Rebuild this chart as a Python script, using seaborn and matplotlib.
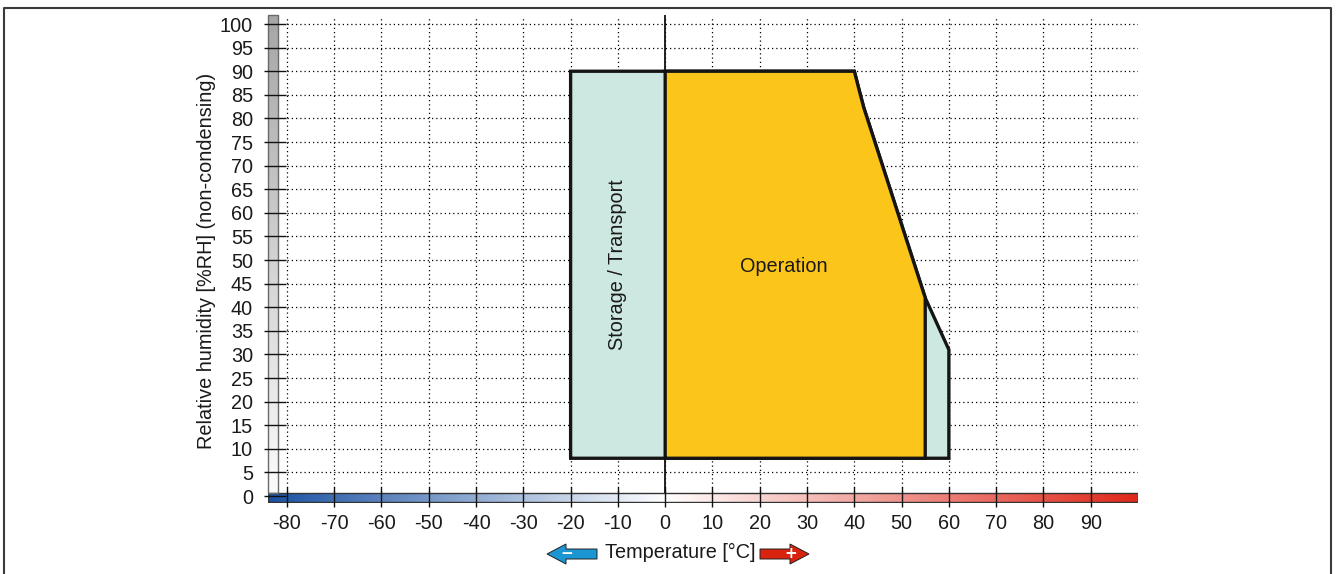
import numpy as np
import matplotlib
matplotlib.use("Agg")
import matplotlib.pyplot as plt
import seaborn as sns
import pandas as pd
from matplotlib.colors import LinearSegmentedColormap, TwoSlopeNorm
from matplotlib.patches import Rectangle, FancyArrow
from matplotlib.lines import Line2D
from matplotlib.transforms import IdentityTransform

# ---------------- data ----------------
x_ticks = [-80, -70, -60, -50, -40, -30, -20, -10, 0, 10, 20, 30, 40, 50, 60, 70, 80, 90]
y_ticks = [0, 5, 10, 15, 20, 25, 30, 35, 40, 45, 50, 55, 60, 65, 70, 75, 80, 85, 90, 95, 100]

# derating curve (upper right boundary)
curve_temp = [40, 41, 42, 45, 50, 55]
curve_rh = [90, 86.1, 82.3, 73.0, 57.5, 42.0]

storage_temp = [-20, -20] + curve_temp + [60, 60]
storage_rh = [8, 90] + curve_rh + [31, 8]

operation_temp = [0, 0] + curve_temp + [55]
operation_rh = [8, 90] + curve_rh + [8]

region_labels = ["Storage / Transport", "Operation"]
x_min, x_max = -84, 100
y_min, y_max = -1.5, 102

# ---------------- style ----------------
sns.set_theme(style="white")
plt.rcParams["font.family"] = ["Liberation Sans", "DejaVu Sans"]
plt.rcParams["axes.unicode_minus"] = False
FS = 14.3
TXT = "#1a1a1a"

W, H = 1336, 574
fig = plt.figure(figsize=(W / 100, H / 100), dpi=100)
ax = fig.add_axes([268 / W, 1 - 503.1 / H, 870 / W, 488.5 / H])
ax.set_xlim(x_min, x_max)
ax.set_ylim(y_min, y_max)
for s in ax.spines.values():
    s.set_visible(False)
ax.set_facecolor("white")

dot = (0, (1, 2.4))
# grid
ax.hlines([v for v in y_ticks if v > 0], x_ticks[0], x_max, colors="black",
          linestyles=[dot], lw=0.9, zorder=0.5)
ax.vlines(x_ticks, 0, 101.5, colors="black", linestyles=[dot], lw=0.9, zorder=0.5)

# regions
storage_df = pd.DataFrame({"t": storage_temp + storage_temp[:1], "rh": storage_rh + storage_rh[:1]})
operation_df = pd.DataFrame({"t": operation_temp + operation_temp[:1], "rh": operation_rh + operation_rh[:1]})
ax.fill(storage_temp, storage_rh, color="#cde8e0", zorder=1)
sns.lineplot(data=storage_df, x="t", y="rh", sort=False, color="#151515", lw=2.4,
             ax=ax, zorder=2, estimator=None)
ax.fill(operation_temp, operation_rh, color="#fcc51a", zorder=3)
sns.lineplot(data=operation_df, x="t", y="rh", sort=False, color="#151515", lw=2.4,
             ax=ax, zorder=4, estimator=None)
for ln in ax.get_lines():
    ln.set_solid_joinstyle("miter")

ax.text(-10, 49, region_labels[0], rotation=90, ha="center", va="center",
        fontsize=FS, color=TXT, zorder=6)
ax.text(25, 48.7, region_labels[1], ha="center", va="center",
        fontsize=FS, color=TXT, zorder=6)

# zero axis line
ax.axvline(0, color="#111111", lw=1.3, zorder=5)

# temperature colour bar
cmap_t = LinearSegmentedColormap.from_list("t", [(0, "#1a52a3"), (0.5, "#ffffff"), (1, "#e0281a")])
grad = np.linspace(x_min, x_max, 600)[None, :]
ax.imshow(grad, extent=[x_min, x_max, -1.3, 0.6], aspect="auto", cmap=cmap_t,
          norm=TwoSlopeNorm(vcenter=0, vmin=x_min, vmax=x_max), zorder=6)
ax.add_patch(Rectangle((x_min, -1.3), x_max - x_min, 1.9, fill=False,
                       ec="#333333", lw=1.0, zorder=7))

# humidity grey bar
cmap_h = LinearSegmentedColormap.from_list("h", ["#fbfbfb", "#a6a6a6"])
gh = np.linspace(0, 1, 300)[:, None]
ax.imshow(gh, extent=[x_min, -81.8, 0.6, y_max], origin="lower", aspect="auto",
          cmap=cmap_h, zorder=6)
ax.add_patch(Rectangle((x_min, 0.6), 2.2, y_max - 0.6, fill=False,
                       ec="#6a6a6a", lw=1.0, zorder=7, clip_on=False))

# tick marks
ax.hlines(y_ticks, -84.9, -80.2, colors="#111111", lw=1.0, zorder=8, clip_on=False)
ax.vlines(x_ticks, -2.4, 1.9, colors="#111111", lw=1.0, zorder=8, clip_on=False)

ax.set_xticks(x_ticks)
ax.set_xticklabels([str(v) for v in x_ticks])
ax.set_yticks(y_ticks)
ax.set_yticklabels([str(v) for v in y_ticks])
ax.tick_params(axis="x", length=0, pad=7.5, labelsize=FS, labelcolor=TXT)
ax.tick_params(axis="y", length=0, pad=10.8, labelsize=FS, labelcolor=TXT)
ax.set_xlabel("")
ax.set_ylabel("")

fig.text(207 / W, 1 - 261 / H, "Relative humidity [%RH] (non-condensing)", rotation=90,
         ha="center", va="center", fontsize=FS, color=TXT)
fig.text(680 / W, 1 - 552 / H, "Temperature [°C]", ha="center", va="center",
         fontsize=FS, color=TXT)

# arrows
ident = IdentityTransform()
yc = H - 554
fig.patches.append(FancyArrow(597, yc, -50, 0, width=10, head_width=20, head_length=19,
                              length_includes_head=True, transform=ident, fc="#1b96d2",
                              ec="#222222", lw=0.7, figure=fig))
fig.patches.append(FancyArrow(760, yc, 49, 0, width=10, head_width=20, head_length=19,
                              length_includes_head=True, transform=ident, fc="#d9230f",
                              ec="#222222", lw=0.7, figure=fig))
fig.text(567 / W, yc / H, "−", ha="center", va="center", color="white",
         fontsize=11, fontweight="bold", family="DejaVu Sans")
fig.text(791 / W, yc / H, "+", ha="center", va="center", color="white",
         fontsize=11, fontweight="bold", family="DejaVu Sans")

# outer frame
fig.add_artist(Line2D([4 / W, 4 / W, 1331 / W, 1331 / W], [-0.05, 1 - 7.5 / H, 1 - 7.5 / H, -0.05],
                      transform=fig.transFigure, color="#3a3a3a", lw=1.5))

fig.savefig("out.png", dpi=100)
